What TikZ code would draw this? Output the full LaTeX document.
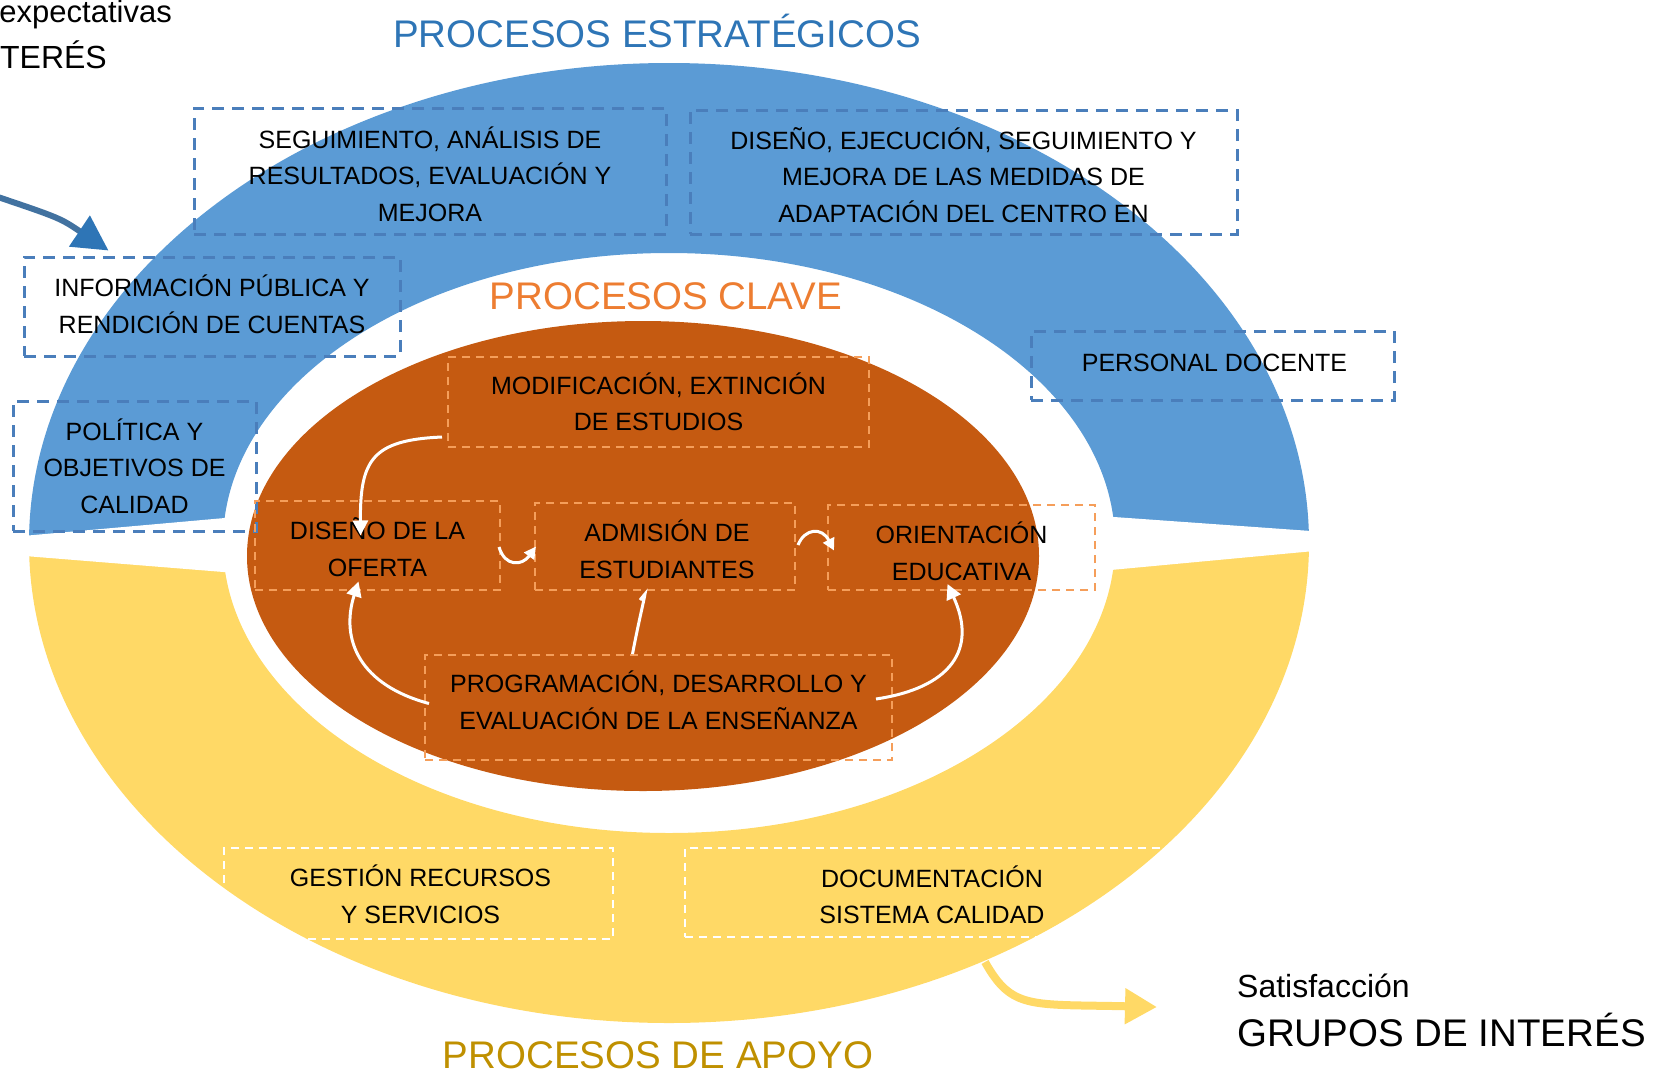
\documentclass[tikz,border=0pt]{standalone}
\usepackage{fontspec}
\setmainfont{Liberation Sans}
\usetikzlibrary{arrows.meta}
\definecolor{ringblue}{RGB}{91,155,213}
\definecolor{ringyellow}{RGB}{255,217,102}
\definecolor{orangefill}{RGB}{197,90,17}
\definecolor{dashblue}{RGB}{74,126,187}
\definecolor{dashorange}{RGB}{245,158,90}
\definecolor{titleblue}{RGB}{46,117,182}
\definecolor{titleorange}{RGB}{237,125,49}
\definecolor{titlegold}{RGB}{191,144,0}
\definecolor{arrowblue}{RGB}{66,114,160}
\definecolor{headblue}{RGB}{46,117,182}
\begin{document}
\begin{tikzpicture}[x=1pt,y=-1pt,
  txt/.style={font=\fontsize{25}{36.5}\selectfont, align=center, text=black, inner sep=0pt},
  bluebox/.style={draw=dashblue, line width=3pt, dash pattern=on 12pt off 8pt, inner sep=0pt},
  orabox/.style={draw=dashorange, line width=2pt, dash pattern=on 8pt off 6pt, inner sep=0pt},
  whitebox/.style={draw=white, line width=2.5pt, dash pattern=on 8pt off 6pt, inner sep=0pt},
  title/.style={font=\fontsize{38.5}{40}\selectfont, anchor=base, inner sep=0pt},
  flow/.style={draw=white, line width=3pt, -{Triangle[length=15pt,width=15pt]}},
  flowsmall/.style={draw=white, line width=3pt, -{Triangle[length=12pt,width=12pt]}},
]
\useasboundingbox (0,0) rectangle (1665,1077);

% rings
\begin{scope}
  \clip (0,0) rectangle (1665,545);
  \fill[ringblue, even odd rule] (669,543) ellipse [x radius=640pt, y radius=480pt]
                                 (669,543) ellipse [x radius=446pt, y radius=290pt];
\end{scope}
\begin{scope}
  \clip (0,545) rectangle (1665,1077);
  \fill[ringyellow, even odd rule] (669,543) ellipse [x radius=640pt, y radius=480pt]
                                   (669,543) ellipse [x radius=446pt, y radius=290pt];
\end{scope}
% gaps between blue and yellow
\fill[white] (0,538) -- (236,517) -- (236,573) -- (0,554) -- cycle;
\fill[white] (1100,516) -- (1325,532) -- (1325,550) -- (1100,571) -- cycle;

% core ellipse
\fill[orangefill] (643,556) ellipse [x radius=396pt, y radius=235pt];

% strategic boxes
\node[bluebox, minimum width=472pt, minimum height=126pt] (seg) at (430,171) {};
\node[txt] (segT) at ([yshift=-3pt]seg.center) {SEGUIMIENTO, ANÁLISIS DE\\RESULTADOS, EVALUACIÓN Y\\MEJORA};
\node[bluebox, minimum width=547pt, minimum height=124pt] (dis) at (963.5,172) {};
\node[txt] (disT) at ([yshift=-3pt]dis.center) {DISEÑO, EJECUCIÓN, SEGUIMIENTO Y\\MEJORA DE LAS MEDIDAS DE\\ADAPTACIÓN DEL CENTRO EN};
\node[bluebox, minimum width=376pt, minimum height=99pt] (info) at (212,306.5) {};
\node[txt] (infoT) at ([yshift=2pt]info.center) {INFORMACIÓN PÚBLICA Y\\RENDICIÓN DE CUENTAS};
\node[bluebox, minimum width=243pt, minimum height=130pt] (pol) at (134.5,466) {};
\node[txt] (polT) at (pol.center) {POLÍTICA Y\\OBJETIVOS DE\\CALIDAD};
\node[bluebox, minimum width=363pt, minimum height=69pt] (per) at (1212.5,365.5) {};
\node[txt] (perT) at ([xshift=2pt,yshift=3pt]per.center) {PERSONAL DOCENTE};

% key boxes
\node[orabox, minimum width=421pt, minimum height=90pt] (mod) at (658.5,402) {};
\node[txt] (modT) at (mod.center) {MODIFICACIÓN, EXTINCIÓN\\DE ESTUDIOS};
\node[orabox, minimum width=245pt, minimum height=89pt] (ofe) at (377.5,545.5) {};
\node[txt] (ofeT) at ([yshift=-1.5pt]ofe.center) {DISEÑO DE LA\\OFERTA};
\node[orabox, minimum width=260pt, minimum height=87pt] (adm) at (665,546.5) {};
\node[txt] (admT) at ([xshift=2pt,yshift=-3pt]adm.center) {ADMISIÓN DE\\ESTUDIANTES};
\node[orabox, minimum width=267pt, minimum height=85pt] (ori) at (961.5,547.5) {};
\node[txt] (oriT) at ([yshift=-4pt]ori.center) {ORIENTACIÓN\\EDUCATIVA};
\node[orabox, minimum width=467pt, minimum height=105pt] (prog) at (658.5,707.5) {};
\node[txt] (progT) at ([yshift=7pt]prog.center) {PROGRAMACIÓN, DESARROLLO Y\\EVALUACIÓN DE LA ENSEÑANZA};

% support boxes
\node[whitebox, minimum width=389pt, minimum height=91pt] (ges) at (418.5,893.5) {};
\node[txt] (gesT) at ([xshift=2pt,yshift=-1pt]ges.center) {GESTIÓN RECURSOS\\Y SERVICIOS};
\node[whitebox, minimum width=494pt, minimum height=89pt] (doc) at (932,892.5) {};
\node[txt] (docT) at ([yshift=-2.5pt]doc.center) {DOCUMENTACIÓN\\SISTEMA CALIDAD};

% white flow arrows
\draw[flow] ([xshift=-5pt,yshift=-35pt]mod.west) .. controls (372,440) and (360,460) .. ([xshift=-17pt,yshift=10pt]ofe.center);
\draw[flow] ([xshift=5pt,yshift=4pt]prog.west) .. controls (360,685) and (340,640) .. ([xshift=-19pt,yshift=-36pt]ofe.center);
\draw[flowsmall] ([xshift=-2pt,yshift=-1.5pt]ofe.east) .. controls (505,567) and (522,566) .. ([xshift=2pt]adm.west);
\draw[flowsmall] ([xshift=2pt,yshift=1.5pt]adm.east) .. controls (805,528) and (822,527) .. ([xshift=7pt,yshift=-3pt]ori.west);
\draw[white, line width=3pt] ([xshift=-26pt]prog.north) .. controls (639,620) and (643,605) .. ([xshift=-20pt,yshift=-3pt]adm.south) -- ++(-5,6);
\draw[flow] ([xshift=-17pt,yshift=8.5pt]prog.east) .. controls (950,688) and (978,650) .. ([xshift=-14pt,yshift=7pt]ori.south);

% external arrows
\coordinate (src) at (-5,196);
\draw[arrowblue, line width=6pt, -{Triangle[length=35pt,width=36pt,color=headblue]}]
  (src) .. controls (60,218) .. ([xshift=86pt,yshift=5pt]info.north west);
\coordinate (ys) at (985,962);
\coordinate (ye) at (1157,1007);
\draw[ringyellow, line width=8pt, -{Triangle[length=32pt,width=34pt]}]
  (ys) .. controls (1012,1010) and (1030,1004) .. (ye);

% titles and labels
\node[title, text=titleblue] (tS) at (657,47) {PROCESOS ESTRATÉGICOS};
\node[title, text=titleorange] (tC) at (666,309) {PROCESOS CLAVE};
\node[title, text=titlegold] (tA) at (658,1068) {PROCESOS DE APOYO};
\node[font=\fontsize{32}{34}\selectfont, anchor=base west, inner sep=0pt] (sat) at (1237,997) {Satisfacción};
\node[title, anchor=base west] (gi) at (1237,1046) {GRUPOS DE INTERÉS};
\node[font=\fontsize{31}{33}\selectfont, anchor=base east, inner sep=0pt] (expe) at (172,22) {expectativas};
\node[font=\fontsize{32}{34}\selectfont, anchor=base east, inner sep=0pt] (ter) at (107,68) {TERÉS};
\end{tikzpicture}
\end{document}
